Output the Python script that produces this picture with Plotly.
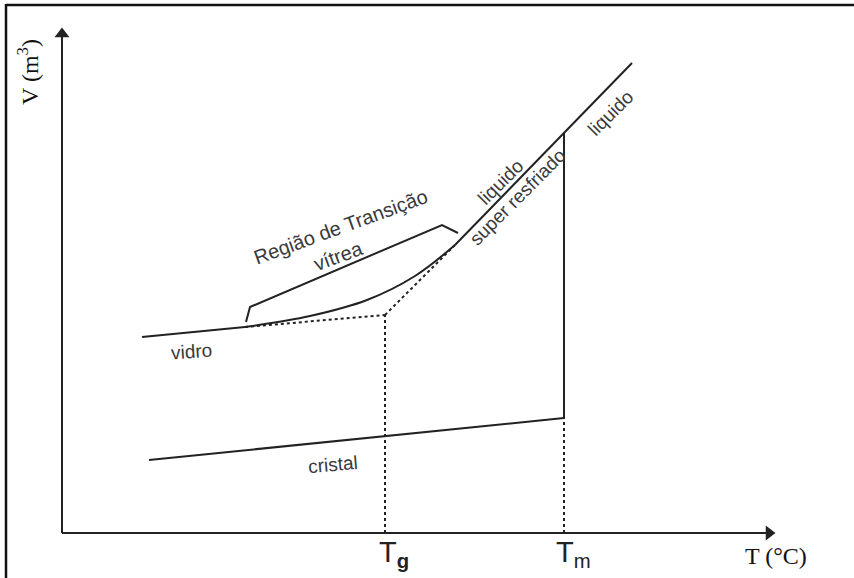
import plotly.graph_objects as go

# Schematic values (T, V in arbitrary units; origin at axes corner)
glass_T = [80, 183]
glass_V = [196, 206]
glass_ext_T = [183, 323]
glass_ext_V = [206, 218]
trans_T = [183, 248, 305, 353, 393]
trans_V = [206, 217, 233, 257, 288]
liq_ext_T = [323, 393]
liq_ext_V = [218, 288]
liq_T = [393, 570]
liq_V = [288, 470]
crys_T = [87, 502]
crys_V = [73, 115]
Tm_solid_T = [502, 502]
Tm_solid_V = [115, 400]
Tm_dot_T = [502, 502]
Tm_dot_V = [0, 115]
Tg_dot_T = [323, 323]
Tg_dot_V = [0, 218]
bracket_T = [184, 188, 380, 396]
bracket_V = [211, 226, 308, 300]
x_axis_end = 713
y_axis_end = 505

line_col = "#222222"
txt_col = "#3a3a3a"

fig = go.Figure()

def add(xs, ys, dash="solid", w=2):
    fig.add_trace(go.Scatter(x=xs, y=ys, mode="lines",
                             line=dict(color=line_col, width=w, dash=dash),
                             hoverinfo="skip", showlegend=False))

add(glass_T, glass_V)
add(glass_ext_T, glass_ext_V, "dot")
fig.add_trace(go.Scatter(x=trans_T, y=trans_V, mode="lines",
                         line=dict(color=line_col, width=2, shape="spline"),
                         hoverinfo="skip", showlegend=False))
add(liq_ext_T, liq_ext_V, "dot")
add(liq_T, liq_V)
add(crys_T, crys_V)
add(Tm_solid_T, Tm_solid_V)
add(Tm_dot_T, Tm_dot_V, "dot")
add(Tg_dot_T, Tg_dot_V, "dot")
add(bracket_T, bracket_V)
# axes
add([0, x_axis_end - 8], [0, 0])
add([0, 0], [0, y_axis_end - 8])
# arrow heads
fig.add_trace(go.Scatter(x=[x_axis_end - 6], y=[0], mode="markers",
                         marker=dict(symbol="triangle-right", size=13, color=line_col, line=dict(width=0)),
                         hoverinfo="skip", showlegend=False))
fig.add_trace(go.Scatter(x=[0], y=[y_axis_end - 6], mode="markers",
                         marker=dict(symbol="triangle-up", size=13, color=line_col, line=dict(width=0)),
                         hoverinfo="skip", showlegend=False))

annotations = []
sans = "Liberation Sans"
serif = "Liberation Serif"

def txt(x, y, s, size, angle=0, font=sans, color=txt_col):
    annotations.append(dict(x=x, y=y, xref="x", yref="y", text=s, showarrow=False,
                            textangle=angle, font=dict(family=font, size=size, color=color),
                            xanchor="center", yanchor="middle"))

txt(-34, 461, "V (m<sup>3</sup>)", 24, -90, serif, "#111111")
txt(714, -23, "T (°C)", 24, 0, serif, "#111111")
txt(332, -21, "T<sub><b>g</b></sub>", 29, 0, sans, "#222222")
txt(511, -21, "T<sub>m</sub>", 29, 0, sans, "#222222")
txt(278, 306, "Região de Transição", 20, -20)
txt(276, 277, "vítrea", 20, -20)
txt(129, 182, "vidro", 19, -4)
txt(271, 69, "cristal", 19, -5)
txt(438, 351, "liquido", 19, -45)
txt(455, 336, "super resfriado", 19, -45)
txt(548, 420, "liquido", 19, -45)

fig.update_layout(
    width=854, height=578,
    margin=dict(l=0, r=0, t=0, b=0),
    paper_bgcolor="white", plot_bgcolor="white",
    xaxis=dict(range=[-62, 792], visible=False, fixedrange=True),
    yaxis=dict(range=[-45, 533], visible=False, fixedrange=True),
    annotations=annotations,
    shapes=[
        dict(type="line", xref="paper", yref="paper", x0=6/854, x1=6/854, y0=0, y1=1 - 4/578,
             line=dict(color="#111111", width=2.5)),
        dict(type="line", xref="paper", yref="paper", x0=6/854, x1=1, y0=1 - 5/578, y1=1 - 5/578,
             line=dict(color="#111111", width=2.5)),
    ],
)

fig.write_html("out.html")
